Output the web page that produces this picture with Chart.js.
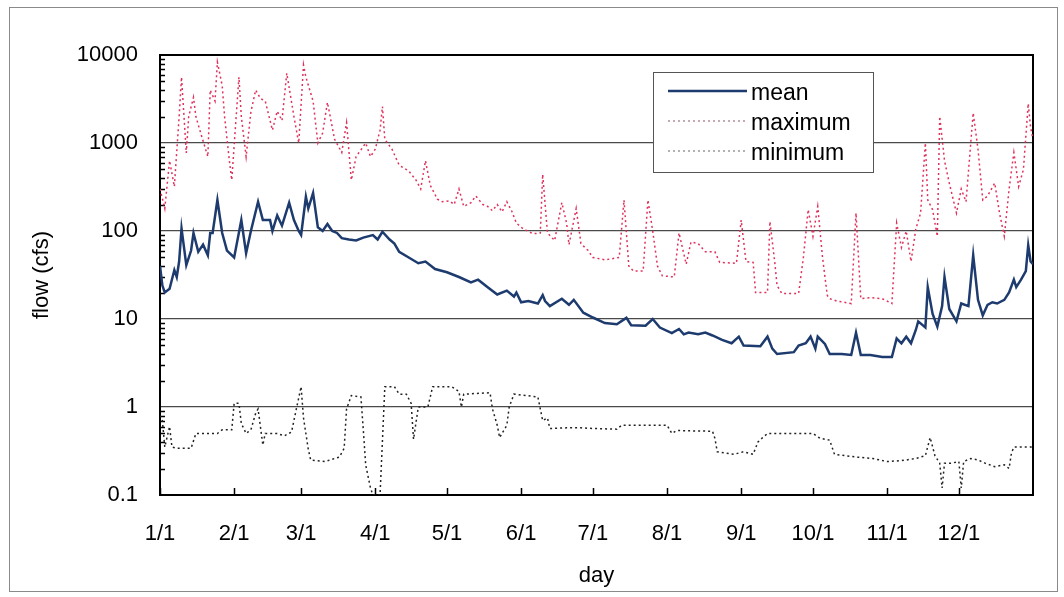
<!DOCTYPE html>
<html>
<head>
<meta charset="utf-8">
<script src="https://cdn.jsdelivr.net/npm/chart.js@4"></script>
<style>
  html, body { margin: 0; padding: 0; background: #fff; }
  canvas { display: block; }
</style>
</head>
<body>
<canvas id="chart" width="1064" height="597"></canvas>
<script>
// x = day of year (0 = 1/1), y = flow in cfs
const monthStarts = [0, 31, 59, 90, 120, 151, 181, 212, 243, 273, 304, 334];
const monthLabels = ['1/1', '2/1', '3/1', '4/1', '5/1', '6/1', '7/1', '8/1', '9/1', '10/1', '11/1', '12/1'];
const yTicks = [0.1, 1, 10, 100, 1000, 10000];

const meanDays = [0, 1, 2, 4, 6, 7, 8, 9, 11, 13, 14, 16, 18, 20, 21, 22, 24, 26, 28, 31, 34, 36, 38, 41, 43, 46, 47, 49, 51, 54, 56, 58, 59, 61, 62, 64, 66, 68, 70, 72, 74, 76, 79, 82, 85, 89, 91, 93, 96, 98, 100, 104, 108, 111, 115, 120, 125, 130, 133, 137, 141, 145, 148, 149, 151, 154, 158, 160, 161, 163, 168, 171, 173, 177, 181, 186, 191, 195, 197, 203, 206, 209, 214, 217, 219, 221, 225, 228, 231, 235, 239, 242, 244, 251, 254, 256, 258, 265, 267, 270, 272, 274, 275, 278, 280, 285, 289, 291, 293, 297, 302, 306, 308, 310, 312, 314, 316, 317, 320, 321, 323, 325, 327, 328, 330, 333, 335, 338, 340, 342, 344, 346, 348, 350, 353, 355, 357, 358, 360, 362, 363, 364, 365];
const meanFlow = [40, 24, 20, 22, 36, 30, 45, 107, 41, 60, 95, 58, 70, 53, 95, 95, 225, 95, 60, 50, 133, 56, 100, 215, 133, 133, 100, 150, 115, 210, 133, 100, 90, 245, 180, 270, 110, 100, 120, 100, 95, 83, 80, 78, 84, 90, 80, 98, 80, 72, 58, 50, 43, 45, 37, 34, 30, 26, 28, 23, 19, 21, 18, 20, 15.5, 16, 15, 18.7, 16, 14, 17, 14.5, 16.5, 11.8, 10.4, 9, 8.7, 10.3, 8.5, 8.4, 10, 8, 6.9, 7.7, 6.7, 7, 6.7, 7, 6.5, 5.8, 5.3, 6.3, 5, 4.9, 6.3, 4.6, 4, 4.2, 5, 5.3, 6.3, 4.6, 6.3, 5.2, 4, 4, 3.9, 7, 3.9, 3.9, 3.7, 3.7, 6, 5.3, 6.3, 5.3, 7.5, 9.4, 8, 23, 11.5, 8.2, 14, 30, 13, 9.4, 15, 14, 53, 16.5, 11, 14.5, 15.5, 15, 16.5, 20, 28, 23, 28, 35, 69, 45, 42];

const maxDays = [0, 2, 4, 6, 8, 9, 11, 12, 14, 15, 17, 20, 21, 23, 24, 26, 27, 29, 30, 33, 34, 36, 38, 40, 42, 44, 47, 49, 51, 53, 56, 58, 60, 61, 64, 66, 68, 70, 73, 76, 78, 80, 82, 86, 88, 90, 92, 93, 94, 97, 100, 104, 107, 109, 111, 113, 116, 118, 121, 123, 125, 127, 130, 132, 135, 137, 139, 141, 143, 145, 147, 149, 152, 156, 159, 160, 162, 165, 168, 170, 171, 174, 176, 179, 181, 186, 192, 194, 196, 198, 202, 204, 206, 208, 210, 215, 217, 220, 222, 225, 228, 232, 234, 241, 243, 245, 248, 249, 254, 255, 257, 258, 260, 267, 269, 271, 273, 275, 277, 279, 280, 283, 289, 291, 293, 297, 302, 306, 308, 310, 312, 314, 316, 318, 320, 321, 323, 325, 326, 328, 330, 333, 335, 337, 340, 342, 344, 346, 349, 351, 353, 355, 357, 359, 361, 363, 364, 365];
const maxFlow = [300, 180, 630, 320, 2000, 5600, 770, 2000, 3300, 2000, 1300, 700, 4000, 3000, 8300, 4500, 2000, 630, 380, 5600, 2000, 700, 2250, 4000, 3200, 3000, 1400, 2300, 1800, 6200, 2000, 1000, 7700, 5600, 3000, 1000, 1300, 2900, 1100, 780, 1700, 380, 700, 1000, 700, 850, 1400, 2600, 1100, 850, 560, 480, 380, 300, 630, 330, 230, 215, 220, 200, 300, 190, 210, 250, 200, 190, 170, 200, 165, 215, 170, 123, 105, 93, 95, 440, 95, 78, 210, 123, 70, 180, 72, 60, 50, 47, 50, 225, 40, 35, 35, 225, 100, 40, 31, 30, 95, 42, 75, 72, 58, 58, 44, 43, 133, 45, 44, 20, 20, 128, 45, 24, 19.5, 19.5, 50, 175, 87, 190, 50, 18.5, 17, 16, 15, 160, 17, 17.5, 17, 15, 123, 65, 100, 45, 105, 160, 1000, 225, 175, 87, 2000, 630, 350, 160, 300, 215, 2200, 850, 225, 250, 350, 160, 87, 300, 780, 320, 500, 2800, 1500, 1100];

const minDays = [0, 1, 2, 4, 5, 7, 13, 15, 24, 26, 30, 31, 33, 34, 36, 38, 40, 41, 43, 44, 49, 52, 55, 57, 59, 60, 62, 63, 69, 73, 75, 77, 78, 80, 84, 85, 86, 88, 89, 92, 94, 98, 100, 103, 105, 106, 108, 112, 114, 122, 125, 126, 127, 138, 139, 141, 142, 145, 146, 148, 158, 159, 160, 162, 163, 170, 176, 181, 191, 193, 212, 214, 216, 231, 232, 233, 240, 244, 248, 250, 252, 254, 273, 276, 280, 282, 291, 298, 304, 309, 312, 316, 320, 322, 324, 326, 327, 328, 331, 334, 335, 336, 339, 342, 345, 349, 353, 355, 356, 357, 365];
const minFlow = [0.8, 0.7, 0.35, 0.6, 0.35, 0.34, 0.34, 0.5, 0.5, 0.55, 0.55, 1.1, 1.1, 0.65, 0.5, 0.55, 0.85, 0.95, 0.37, 0.5, 0.5, 0.47, 0.52, 0.95, 1.7, 0.75, 0.33, 0.25, 0.24, 0.26, 0.27, 0.34, 0.95, 1.35, 1.3, 0.55, 0.22, 0.12, 0.1, 0.1, 1.7, 1.7, 1.4, 1.4, 1.1, 0.43, 1.0, 1.0, 1.7, 1.7, 1.5, 1.0, 1.4, 1.45, 0.95, 0.62, 0.45, 0.62, 1.0, 1.4, 1.3, 0.95, 0.7, 0.75, 0.57, 0.58, 0.58, 0.57, 0.56, 0.62, 0.62, 0.5, 0.54, 0.53, 0.44, 0.31, 0.29, 0.31, 0.29, 0.4, 0.45, 0.5, 0.5, 0.44, 0.42, 0.29, 0.27, 0.26, 0.24, 0.245, 0.25, 0.26, 0.28, 0.45, 0.28, 0.23, 0.12, 0.23, 0.23, 0.24, 0.12, 0.24, 0.26, 0.25, 0.23, 0.21, 0.22, 0.2, 0.3, 0.35, 0.35];

const pts = (days, vals) => days.map((d, i) => ({ x: d, y: vals[i] }));
const FONT = 'Arial, "Liberation Sans", sans-serif';

const decor = {
  id: 'decor',
  beforeDatasetsDraw(chart) {
    const { ctx, chartArea: a, scales: { x, y } } = chart;
    ctx.save();
    ctx.strokeStyle = '#000';
    ctx.lineWidth = 1.5;
    ctx.beginPath();
    // minor ticks inside the left edge
    for (let e = -1; e < 4; e++) {
      for (let m = 2; m < 10; m++) {
        const py = Math.round(y.getPixelForValue(m * Math.pow(10, e))) + 0.5;
        ctx.moveTo(a.left, py);
        ctx.lineTo(a.left + 5, py);
      }
    }
    // month ticks inside the bottom edge
    monthStarts.forEach(d => {
      const px = Math.round(x.getPixelForValue(d)) + 0.5;
      ctx.moveTo(px, a.bottom);
      ctx.lineTo(px, a.bottom - 7);
    });
    ctx.stroke();
    ctx.lineWidth = 2;
    ctx.strokeRect(a.left, a.top, a.right - a.left, a.bottom - a.top);
    ctx.restore();
  },
  afterDraw(chart) {
    const { ctx } = chart;
    ctx.save();
    // outer frame
    ctx.strokeStyle = '#8a8a8a';
    ctx.lineWidth = 1;
    ctx.strokeRect(9.5, 7.5, 1048, 584);
    // legend
    const bx = 653, by = 72, bw = 220, bh = 100;
    ctx.fillStyle = '#fff';
    ctx.fillRect(bx, by, bw, bh);
    ctx.strokeStyle = '#555';
    ctx.strokeRect(bx + 0.5, by + 0.5, bw, bh);
    ctx.font = '23px ' + FONT;
    ctx.textBaseline = 'alphabetic';
    chart.data.datasets.forEach((ds, i) => {
      const ly = 91 + i * 30;
      ctx.strokeStyle = ds.legendColor;
      ctx.lineWidth = ds.borderWidth;
      ctx.setLineDash(ds.borderDash || []);
      ctx.beginPath();
      ctx.moveTo(668, ly);
      ctx.lineTo(747, ly);
      ctx.stroke();
      ctx.setLineDash([]);
      ctx.fillStyle = '#000';
      ctx.fillText(ds.label, 751, ly + 9);
    });
    ctx.restore();
  }
};

new Chart(document.getElementById('chart'), {
  type: 'line',
  data: {
    datasets: [{
      label: 'mean',
      data: pts(meanDays, meanFlow),
      borderColor: '#1d3b6e',
      legendColor: '#1d3b6e',
      borderWidth: 2.5
    }, {
      label: 'maximum',
      data: pts(maxDays, maxFlow),
      borderColor: '#e0305c',
      legendColor: '#b09098',
      borderWidth: 1.5,
      borderDash: [2, 3]
    }, {
      label: 'minimum',
      data: pts(minDays, minFlow),
      borderColor: '#222',
      legendColor: '#999',
      borderWidth: 1.5,
      borderDash: [2, 3]
    }]
  },
  options: {
    responsive: false,
    animation: false,
    pointRadius: 0,
    elements: { point: { radius: 0 }, line: { tension: 0 } },
    layout: { padding: { top: 55, right: 31, left: 10, bottom: 0 } },
    plugins: { legend: { display: false }, tooltip: { enabled: false } },
    scales: {
      x: {
        type: 'linear',
        min: 0,
        max: 365,
        afterFit: s => { s.height = 102; },
        afterBuildTicks: s => { s.ticks = monthStarts.map(v => ({ value: v })); },
        grid: { drawOnChartArea: false, drawTicks: false },
        border: { display: false },
        ticks: {
          color: '#000',
          font: { family: FONT, size: 22 },
          padding: 26,
          maxRotation: 0,
          autoSkip: false,
          callback: v => monthLabels[monthStarts.indexOf(v)]
        },
        title: { display: true, text: 'day', color: '#000', font: { family: FONT, size: 22 }, padding: { top: 0, bottom: 8 } }
      },
      y: {
        type: 'logarithmic',
        min: 0.1,
        max: 10000,
        afterFit: s => { s.width = 150; },
        afterBuildTicks: s => { s.ticks = yTicks.map(v => ({ value: v })); },
        grid: { color: '#4a4a4a', lineWidth: 1.3, drawTicks: false },
        border: { display: false },
        ticks: {
          color: '#000',
          font: { family: FONT, size: 22 },
          padding: 22,
          autoSkip: false,
          callback: v => String(v)
        },
        title: { display: true, text: 'flow (cfs)', color: '#000', font: { family: FONT, size: 22 }, padding: { top: 19, bottom: 0 } }
      }
    }
  },
  plugins: [decor]
});
</script>
</body>
</html>
